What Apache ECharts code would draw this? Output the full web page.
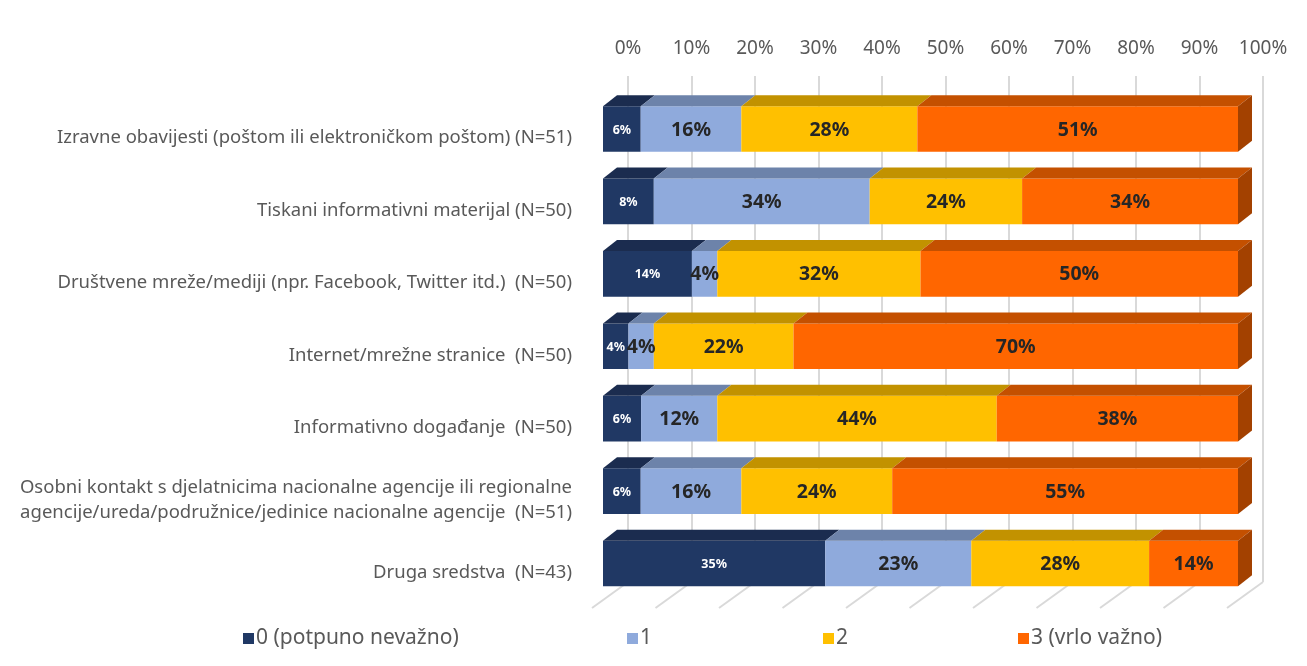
<!DOCTYPE html>
<html>
<head>
<meta charset="utf-8">
<script src="https://cdn.jsdelivr.net/npm/echarts@6/dist/echarts.min.js"></script>
<style>
  html, body { margin: 0; padding: 0; background: #fff; }
  #chart { width: 1307px; height: 666px; }
</style>
</head>
<body>
<div id="chart"></div>
<script>
// categories, top to bottom
const categories = [
  'Izravne obavijesti (poštom ili elektroničkom poštom) (N=51)',
  'Tiskani informativni materijal (N=50)',
  'Društvene mreže/mediji (npr. Facebook, Twitter itd.)  (N=50)',
  'Internet/mrežne stranice  (N=50)',
  'Informativno događanje  (N=50)',
  'Osobni kontakt s djelatnicima nacionalne agencije ili regionalne\nagencije/ureda/podružnice/jedinice nacionalne agencije  (N=51)',
  'Druga sredstva  (N=43)'
];
const levels = ['0 (potpuno nevažno)', '1', '2', '3 (vrlo važno)'];

// shares in percent, as labelled
const level0 = [6, 8, 14, 4, 6, 6, 35];
const level1 = [16, 34, 4, 4, 12, 16, 23];
const level2 = [28, 24, 32, 22, 44, 24, 28];
const level3 = [51, 34, 50, 70, 38, 55, 14];

const axisTicks = [0, 10, 20, 30, 40, 50, 60, 70, 80, 90, 100];

const frontColors = ['#203864', '#8FAADC', '#FFC000', '#FF6600'];
const topColors = ['#1B2C4F', '#6D83AA', '#C29200', '#C45000'];
const sideColors = ['#172642', '#5F7496', '#A37B00', '#A34100'];

const DX = 14, DY = -11;

const allLevels = [level0, level1, level2, level3];

// stacked ranges, normalised per row to 100 %
function buildData(li) {
  return categories.map((c, row) => {
    const total = allLevels.reduce((s, arr) => s + arr[row], 0);
    let start = 0;
    for (let k = 0; k < li; k++) start += allLevels[k][row];
    const v = allLevels[li][row];
    return [start / total * 100, (start + v) / total * 100, row, v];
  });
}

function barRenderer(li) {
  return function (params, api) {
    const start = api.value(0), end = api.value(1), row = api.value(2), pct = api.value(3);
    const p0 = api.coord([start, row]);
    const p1 = api.coord([end, row]);
    const h = api.size([0, 1])[1] * 0.63;
    const x0 = p0[0], x1 = p1[0];
    const y0 = p0[1] - h / 2, y1 = p0[1] + h / 2;
    const children = [
      {
        type: 'rect',
        shape: { x: x0, y: y0, width: x1 - x0, height: h },
        style: { fill: frontColors[li] }
      },
      {
        type: 'polygon',
        shape: { points: [[x0, y0], [x1, y0], [x1 + DX, y0 + DY], [x0 + DX, y0 + DY]] },
        style: { fill: topColors[li] }
      }
    ];
    if (li === 3) {
      children.push({
        type: 'polygon',
        shape: { points: [[x1, y0], [x1 + DX, y0 + DY], [x1 + DX, y1 + DY], [x1, y1]] },
        style: { fill: sideColors[li] }
      });
    }
    children.push({
      type: 'text',
      z2: 10,
      style: {
        x: (x0 + x1) / 2,
        y: p0[1] + 1,
        text: pct + '%',
        align: 'center',
        verticalAlign: 'middle',
        fill: li === 0 ? '#ffffff' : '#262626',
        font: li === 0 ? 'bold 12.5px "Noto Sans"' : 'bold 19.5px "Noto Sans"'
      }
    });
    return { type: 'group', children: children };
  };
}

const chart = echarts.init(document.getElementById('chart'));

const barSeries = levels.map((name, li) => ({
  name: name,
  type: 'custom',
  xAxisIndex: 0,
  yAxisIndex: 0,
  z: 3,
  clip: false,
  itemStyle: { color: frontColors[li] },
  encode: { x: [0, 1], y: 2 },
  renderItem: barRenderer(li),
  data: buildData(li)
}));

const legendLeft = [238, 622, 818, 1013];

chart.setOption({
  animation: false,
  textStyle: { fontFamily: 'Noto Sans' },
  legend: levels.map((name, li) => ({
    data: [name],
    left: legendLeft[li],
    top: 623,
    icon: 'rect',
    itemWidth: 11,
    itemHeight: 11,
    itemGap: 4,
    textStyle: { color: '#595959', fontSize: 21, padding: [0, 0, 0, -3] }
  })),
  grid: [
    { left: 603, right: 69, top: 92.8, bottom: 66.3 },
    { left: 628, right: 44, top: 76, bottom: 84 },
    // category labels sit a little lower than the bar fronts
    { left: 603, right: 69, top: 101.8, bottom: 57.3 }
  ],
  xAxis: [
    { gridIndex: 0, type: 'value', min: 0, max: 100, show: false },
    {
      gridIndex: 1, type: 'value', position: 'top', min: 0, max: 100, interval: 10,
      axisLine: { show: false }, axisTick: { show: false },
      splitLine: { show: true, lineStyle: { color: '#d9d9d9', width: 2 } },
      axisLabel: { formatter: '{value}%', color: '#595959', fontSize: 19, margin: 18 }
    },
    { gridIndex: 2, type: 'value', min: 0, max: 100, show: false }
  ],
  yAxis: [
    { gridIndex: 0, type: 'category', inverse: true, data: categories, show: false },
    { gridIndex: 1, type: 'value', min: 0, max: 1, show: false },
    {
      gridIndex: 2, type: 'category', inverse: true, data: categories,
      axisLine: { show: false }, axisTick: { show: false }, splitLine: { show: false },
      axisLabel: { color: '#595959', fontSize: 18.5, margin: 31, lineHeight: 25, align: 'right' }
    }
  ],
  series: [
    {
      type: 'custom',
      xAxisIndex: 1,
      yAxisIndex: 1,
      z: 1,
      clip: false,
      silent: true,
      encode: { x: 0 },
      renderItem: function (params, api) {
        const p = api.coord([api.value(0), 0]);
        return {
          type: 'line',
          shape: { x1: p[0], y1: p[1], x2: p[0] - 36, y2: p[1] + 26 },
          style: { stroke: '#d9d9d9', lineWidth: 2 }
        };
      },
      data: axisTicks.map(v => [v])
    }
  ].concat(barSeries)
});
</script>
</body>
</html>
